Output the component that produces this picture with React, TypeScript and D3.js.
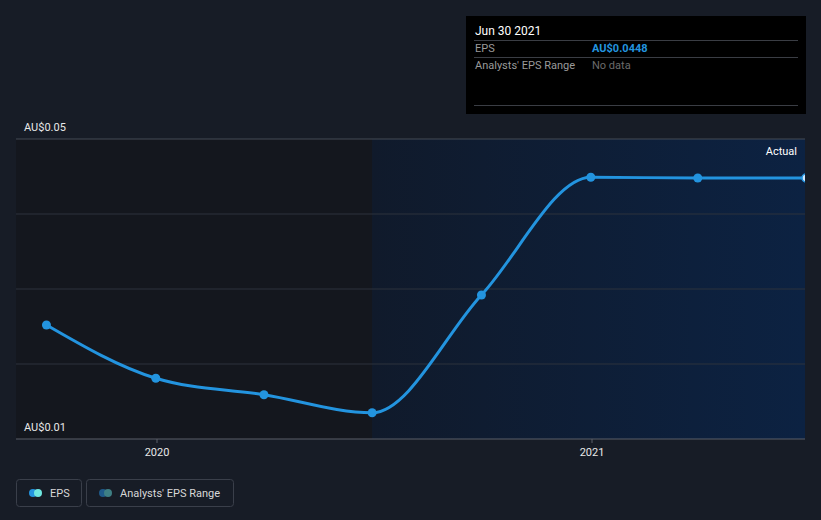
import React from "react";
import * as d3 from "d3";

const dates = ["2019-09-30", "2019-12-31", "2020-03-31", "2020-06-30", "2020-09-30", "2020-12-31", "2021-03-31", "2021-06-30"];
const eps = [0.0252, 0.0181, 0.0159, 0.0135, 0.0292, 0.0449, 0.0448, 0.0448];
const yTicks = [0.01, 0.02, 0.03, 0.04, 0.05];
const yTickLabels = ["AU$0.01", "", "", "", "AU$0.05"];
const xTicks = ["2020-01-01", "2021-01-01"];
const xTickLabels = ["2020", "2021"];
const pastStart = "2020-06-30";

const W = 821, H = 520;
const L = 16, R = 805, T = 139, B = 439;
const parse = d3.utcParse("%Y-%m-%d");

export default function App() {
  const x = d3.scaleUtc().domain([parse("2020-01-01")!, parse("2021-01-01")!]).range([157, 592]);
  const y = d3.scaleLinear().domain([0.01, 0.05]).range([B, T]);
  const pts = dates.map((d, i) => [x(parse(d)!), y(eps[i])] as [number, number]);
  const line = d3.line().curve(d3.curveMonotoneX)(pts) || "";
  const xSplit = x(parse(pastStart)!);
  const font = "Roboto, 'Noto Sans', sans-serif";
  return (
    <svg width={W} height={H} style={{ position: "absolute", left: 0, top: 0, fontFamily: font }}>
      <defs>
        <linearGradient id="fg" x1="0" x2="1" y1="0" y2="0">
          <stop offset="0" stopColor="#101a2b" />
          <stop offset="1" stopColor="#0c2242" />
        </linearGradient>
        <clipPath id="clip">
          <rect x={L} y={0} width={R - L} height={H} />
        </clipPath>
      </defs>
      <rect width={W} height={H} fill="#171c26" />
      <rect x={L} y={T} width={xSplit - L} height={B - T} fill="#14171e" />
      <rect x={xSplit} y={T} width={R - xSplit} height={B - T} fill="url(#fg)" />
      {yTicks.map((t, i) => (
        <line key={i} x1={L} x2={R} y1={y(t)} y2={y(t)} stroke={i === 0 ? "#5a5f69" : i === 4 ? "#454a55" : "#2c323d"} strokeWidth={1} />
      ))}
      {yTicks.map((t, i) => yTickLabels[i] ? (
        <text key={"l" + i} x={24} y={y(t) - 8} fill="#e8e8e8" fontSize={11}>{yTickLabels[i]}</text>
      ) : null)}
      {xTicks.map((t, i) => (
        <g key={"x" + i}>
          <line x1={x(parse(t)!)} x2={x(parse(t)!)} y1={B} y2={B + 4} stroke="#5a5f69" />
          <text x={x(parse(t)!)} y={B + 17} fill="#e8e8e8" fontSize={11} textAnchor="middle">{xTickLabels[i]}</text>
        </g>
      ))}
      <text x={797} y={155} fill="#ffffff" fontSize={11} textAnchor="end">Actual</text>
      <g clipPath="url(#clip)">
        <path d={line} fill="none" stroke="#2394df" strokeWidth={3} />
        {pts.map((p, i) => (
          <circle key={i} cx={p[0]} cy={p[1]} r={i === pts.length - 1 ? 4 : 4.5}
            fill={i === pts.length - 1 ? "#cfe9ff" : "#2394df"}
            stroke={i === pts.length - 1 ? "#2394df" : "none"} strokeWidth={1.5} />
        ))}
      </g>
      {/* tooltip */}
      <rect x={466} y={16} width={340} height={98} fill="#000000" />
      <text x={475} y={35} fill="#ffffff" fontSize={12}>Jun 30 2021</text>
      <line x1={474} x2={798} y1={40.5} y2={40.5} stroke="#3a3d44" />
      <text x={475} y={52} fill="#9a9a9a" fontSize={11}>EPS</text>
      <text x={592} y={52} fill="#2394df" fontSize={11} fontWeight="bold">AU$0.0448</text>
      <line x1={474} x2={798} y1={57.5} y2={57.5} stroke="#3a3d44" />
      <text x={475} y={69} fill="#9a9a9a" fontSize={11}>Analysts' EPS Range</text>
      <text x={592} y={69} fill="#6b6b6b" fontSize={11}>No data</text>
      <line x1={474} x2={798} y1={105.5} y2={105.5} stroke="#3a3d44" />
      {/* legend */}
      <rect x={16.5} y={479.5} width={65} height={27} rx={3} fill="none" stroke="#3a3f4a" />
      <circle cx={33} cy={493} r={4} fill="#2394df" />
      <circle cx={38} cy={493} r={4} fill="#6ee7e0" />
      <text x={50} y={497} fill="#d8d8d8" fontSize={11}>EPS</text>
      <rect x={86.5} y={479.5} width={147} height={27} rx={3} fill="none" stroke="#3a3f4a" />
      <circle cx={103} cy={493} r={4} fill="#1f5a8a" />
      <circle cx={108} cy={493} r={4} fill="#3e7f84" />
      <text x={120} y={497} fill="#d8d8d8" fontSize={11}>Analysts' EPS Range</text>
    </svg>
  );
}
